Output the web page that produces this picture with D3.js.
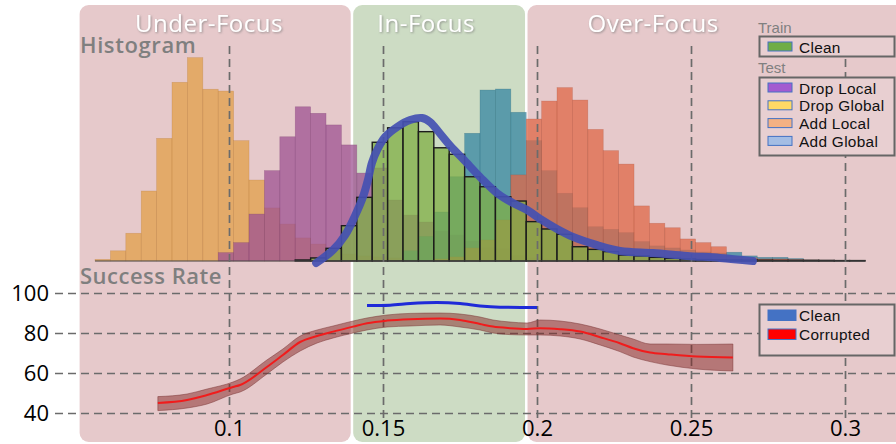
<!DOCTYPE html>
<meta charset="utf-8">
<style>
body { margin: 0; background: #fff; }
svg { display: block; font-family: "Open Sans", "Noto Sans", sans-serif; }
.grid line { stroke: #6b6b6b; stroke-width: 1.7px; stroke-dasharray: 8 5; }
.grid .domain { display: none; }
.grid text { fill: #000; font-size: 22px; font-family: "Open Sans", sans-serif; }
.legend text { font-family: "Liberation Sans", Arial, sans-serif; }
</style>
<title>Focus histogram and success rate</title>
<body>
<svg id="chart" width="896" height="444"></svg>
<script src="https://d3js.org/d3.v7.min.js"></script>
<script>
// histogram bins, 0.005 wide starting at 0.0565 (51 bins)
var binStart = 0.0565, binWidth = 0.005;

var dropGlobal = [0.8,5.0,13.6,34.3,60.1,87.6,99.7,84.2,83.3,59.0,
  39.7,26.0,18.1,11.3,8.3,5.4,3.4,2.5,2.0,1.5,
  1.0,0.5,0,0,0,0,0,0,0,0, 0,0,0,0,0,0,0,0,0,0, 0,0,0,0,0,0,0,0,0,0, 0];
var dropLocal = [0,0,0,0,0,0,0,0,4.1,9.0,
  23.0,44.3,60.9,75.6,72.4,66.7,56.9,43.1,45.6,29.9,
  22.5,19.1,14.7,12.7,9.8,6.4,5.9,2.5,1.5,1.0,
  0,0,0,0,0,0,0,0,0,0, 0,0,0,0,0,0,0,0,0,0, 0];
var clean = [0,0,0,0,0,0,0,0,0,0,
  0,0,0,0.5,1.5,6.2,17.3,31.2,58.2,65.3,
  68.3,63.4,55.5,52.3,41.3,36.4,31.5,29.4,19.3,15.7,
  13.1,7.0,5.7,4.6,2.9,2.5,1.8,1.3,1.0,0.7,
  0.6,0.5,0.4,0.4,0.3,0.3,0.3,0.3,0.2,0.2, 0];
var addGlobal = [0,0,0,0,0,0,0,0,0,0, 0,0,0,0,0,0,0,0,0,0,
  5,12,24,41.3,62.6,83.8,84.3,72.9,59.0,44.3,
  33.2,26.1,16.8,15.5,13.9,9.5,7.4,6.4,5.4,4.4,
  3.9,4.3,2.5,1.8,1.8,1.2,0.5,0,0,0, 0];
var addLocal = [0,0,0,0,0,0,0,0,0,0, 0,0,0,0,0,0,0,0,0,0,
  0,0,1,2,6.4,10.3,20.1,42.2,69.6,78.4,
  85.0,78.9,64.5,54.1,47.5,27.0,18.5,16.3,10.8,9.0,
  7.0,2.1,1.5,1.0,1.0,0.7,0.5,0.3,0,0, 0];

// density curve of the clean training set
var kdeX = [0.1283,0.1338,0.1377,0.1409,0.1435,0.1451,0.1464,0.1481,0.1507,0.1546,
  0.1588,0.1627,0.1653,0.1685,0.1718,0.1760,0.1815,0.1870,0.1922,0.1968,
  0.2010,0.2065,0.2117,0.2195,0.2270,0.2377,0.2487,0.2594,0.2701];
var kdeY = [-1.0,5.4,12.7,22.1,31.4,39.7,48.0,54.4,60.8,65.7,
  69.1,70.1,68.1,62.5,56.5,50.0,41.2,33.3,28.4,25.0,
  20.6,15.7,11.8,7.8,4.9,3.9,2.5,1.5,0];

// success rate
var rateX = [0.0769,0.0864,0.0929,0.1013,0.1036,0.1123,0.1175,0.1231,0.1286,0.1338,
  0.1403,0.1448,0.1513,0.1588,0.1685,0.1750,0.1815,0.1857,0.1912,0.1968,
  0.2010,0.2075,0.2140,0.2205,0.2269,0.2312,0.2367,0.2422,0.2519,0.2636];
var corrupted = [45.0,46.5,49.0,53.0,54.0,63.0,69.0,75.5,78.5,80.7,
  83.2,84.9,86.2,86.9,87.2,86.5,84.5,83.2,82.4,82.0,
  82.4,81.9,80.7,77.9,74.9,72.4,70.2,69.4,68.2,67.7];
var corruptedLo = [41.2,42.5,44.5,49.5,50.5,59.5,65.5,71.0,75.0,77.5,
  80.0,81.5,83.0,83.5,84.0,83.0,81.5,80.0,79.2,79.0,
  79.0,78.5,77.0,74.0,70.7,68.0,65.7,64.0,62.0,61.0];
var corruptedHi = [48.2,49.5,52.0,55.5,57.0,66.5,72.0,78.5,81.5,83.5,
  86.0,87.5,89.0,89.8,90.0,89.5,88.0,86.5,85.5,85.0,
  86.5,86.0,84.5,82.0,79.0,77.0,74.5,74.5,74.3,74.5];
var cleanX = [0.1448,0.1523,0.1588,0.1675,0.1750,0.1815,0.1880,0.2000];
var cleanRate = [93.7,93.9,94.7,95.2,94.7,93.5,92.9,92.7];

var xTicks = [0.1, 0.15, 0.2, 0.25, 0.3];
var xTickLabels = ["0.1", "0.15", "0.2", "0.25", "0.3"];
var yTicks = [40, 60, 80, 100];

var zoneNames = ["Under-Focus", "In-Focus", "Over-Focus"];
var zoneEdges = [0.0515, 0.14, 0.1966, 0.325];
var zoneTitleX = [0.0935, 0.164, 0.2377];
var zoneColors = ["#e6c9cb", "#cddcc4", "#e6c9cb"];

var trainNames = ["Clean"];
var trainColors = ["#70ad47"];
var testNames = ["Drop Local", "Drop Global", "Add Local", "Add Global"];
var testColors = ["#a35bd0", "#ffd966", "#f4b183", "#a4bde4"];
var rateNames = ["Clean", "Corrupted"];
var rateColors = ["#4472c4", "#ff0000"];

var svg = d3.select("#chart");
var x = d3.scaleLinear().domain([0.1, 0.3]).range([229, 845]);
var yHist = d3.scaleLinear().domain([0, 100]).range([261, 57]);
var yRate = d3.scaleLinear().domain([40, 100]).range([413, 293]);

svg.append("defs").append("filter").attr("id", "shadow")
  .attr("x", "-10%").attr("y", "-30%").attr("width", "120%").attr("height", "160%")
  .append("feDropShadow").attr("dx", 1).attr("dy", 1).attr("stdDeviation", 0.8)
  .attr("flood-color", "#777").attr("flood-opacity", 0.7);

// focus zones
var zones = svg.append("g");
zoneNames.forEach(function(name, i) {
  var x0 = x(zoneEdges[i]) + (i ? 1 : 0), x1 = x(zoneEdges[i + 1]) - 1.5;
  zones.append("rect").attr("x", x0).attr("y", 5).attr("width", x1 - x0).attr("height", 437)
    .attr("rx", 9).attr("fill", zoneColors[i]);
  zones.append("text").attr("x", x(zoneTitleX[i])).attr("y", 32).attr("text-anchor", "middle")
    .attr("font-size", 24).attr("letter-spacing", 0.5).attr("fill", "#fff")
    .attr("filter", "url(#shadow)").text(name);
});

// histograms
function drawHist(values, color, stroke, sw) {
  svg.append("g").selectAll("rect")
    .data(values.map(function(v, k) { return {k: k, v: v}; }).filter(function(d) { return d.v !== 0; }))
    .enter().append("rect")
    .attr("x", function(d) { return x(binStart + d.k * binWidth); })
    .attr("width", function(d) { return x(binStart + (d.k + 1) * binWidth) - x(binStart + d.k * binWidth); })
    .attr("y", function(d) { return Math.min(yHist(d.v), yHist(0)); })
    .attr("height", function(d) { return Math.abs(yHist(0) - yHist(d.v)); })
    .attr("fill", color).attr("fill-opacity", 0.75)
    .attr("stroke", stroke).attr("stroke-width", sw);
}
drawHist(dropGlobal, "#e29f48", "rgba(180,120,60,0.4)", 0.6);
drawHist(dropLocal, "#9e5291", "rgba(120,60,110,0.4)", 0.6);
drawHist(addGlobal, "#3485a1", "rgba(40,100,120,0.4)", 0.6);
drawHist(addLocal, "#df6747", "rgba(170,80,60,0.4)", 0.6);
drawHist(clean, "#7faf44", "#1c1c1c", 1.4);

svg.append("line").attr("x1", x(binStart)).attr("x2", x(binStart + 50 * binWidth))
  .attr("y1", yHist(0)).attr("y2", yHist(0)).attr("stroke", "#4a4a4a").attr("stroke-width", 1.2);

// grid lines and tick labels
svg.append("g").attr("class", "grid").attr("transform", "translate(0,418)")
  .call(d3.axisBottom(x).tickValues(xTicks).tickSize(-376).tickPadding(2)
    .tickFormat(function(d, i) { return xTickLabels[i]; }));
svg.append("g").attr("class", "grid").attr("transform", "translate(55,0)")
  .call(d3.axisLeft(yRate).tickValues(yTicks).tickSize(-841).tickPadding(6));

// clean density curve
svg.append("path")
  .attr("d", d3.line().curve(d3.curveCatmullRom.alpha(0.5))
    .x(function(d) { return x(d); }).y(function(d, i) { return yHist(kdeY[i]); })(kdeX))
  .attr("fill", "none").attr("stroke", "#4450b2").attr("stroke-opacity", 0.92)
  .attr("stroke-width", 8).attr("stroke-linecap", "round").attr("stroke-linejoin", "round");

// success rate
svg.append("path")
  .attr("d", d3.area().curve(d3.curveMonotoneX)
    .x(function(d) { return x(d); })
    .y0(function(d, i) { return yRate(corruptedLo[i]); })
    .y1(function(d, i) { return yRate(corruptedHi[i]); })(rateX))
  .attr("fill", "#832624").attr("fill-opacity", 0.5)
  .attr("stroke", "#7a3434").attr("stroke-opacity", 0.5).attr("stroke-width", 1);
svg.append("path")
  .attr("d", d3.line().curve(d3.curveMonotoneX)
    .x(function(d) { return x(d); }).y(function(d, i) { return yRate(corrupted[i]); })(rateX))
  .attr("fill", "none").attr("stroke", "#f01c1c").attr("stroke-width", 2);
svg.append("path")
  .attr("d", d3.line().curve(d3.curveMonotoneX)
    .x(function(d) { return x(d); }).y(function(d, i) { return yRate(cleanRate[i]); })(cleanX))
  .attr("fill", "none").attr("stroke", "#1f2ad8").attr("stroke-width", 3);

// section labels
svg.append("text").attr("x", 80).attr("y", 53).attr("font-size", 22).attr("font-weight", 600)
  .attr("letter-spacing", 0.6).attr("fill", "#7f7f7f").text("Histogram");
svg.append("text").attr("x", 80).attr("y", 284).attr("font-size", 22).attr("font-weight", 600)
  .attr("letter-spacing", 0.5).attr("fill", "#7f7f7f").text("Success Rate");

// legends
var legend = svg.append("g").attr("class", "legend");
function legendBox(top, height, names, colors, rowGap, swH, swW, textDy) {
  var g = legend.append("g");
  g.append("rect").attr("x", 759.5).attr("y", top).attr("width", 135).attr("height", height)
    .attr("fill", "#e8cfd1").attr("stroke", "#666").attr("stroke-width", 2);
  names.forEach(function(n, i) {
    var ry = top + 5.5 + i * rowGap;
    g.append("rect").attr("x", 768).attr("y", ry).attr("width", swW).attr("height", swH)
      .attr("fill", colors[i]).attr("stroke", "#4472c4").attr("stroke-width", 1);
    g.append("text").attr("x", 799).attr("y", ry + textDy).attr("font-size", 15.4)
      .attr("letter-spacing", 0.3).attr("fill", "#111").text(n);
  });
}
legend.append("text").attr("x", 758).attr("y", 33).attr("font-size", 15).attr("fill", "#808080").text("Train");
legendBox(36.5, 20, trainNames, trainColors, 18, 9, 24, 11);
legend.append("text").attr("x", 758).attr("y", 73).attr("font-size", 15).attr("fill", "#808080").text("Test");
legendBox(77.5, 78, testNames, testColors, 17.8, 9, 24, 10.5);
legendBox(304.5, 51, rateNames, rateColors, 19, 10.5, 28, 11);
</script>
